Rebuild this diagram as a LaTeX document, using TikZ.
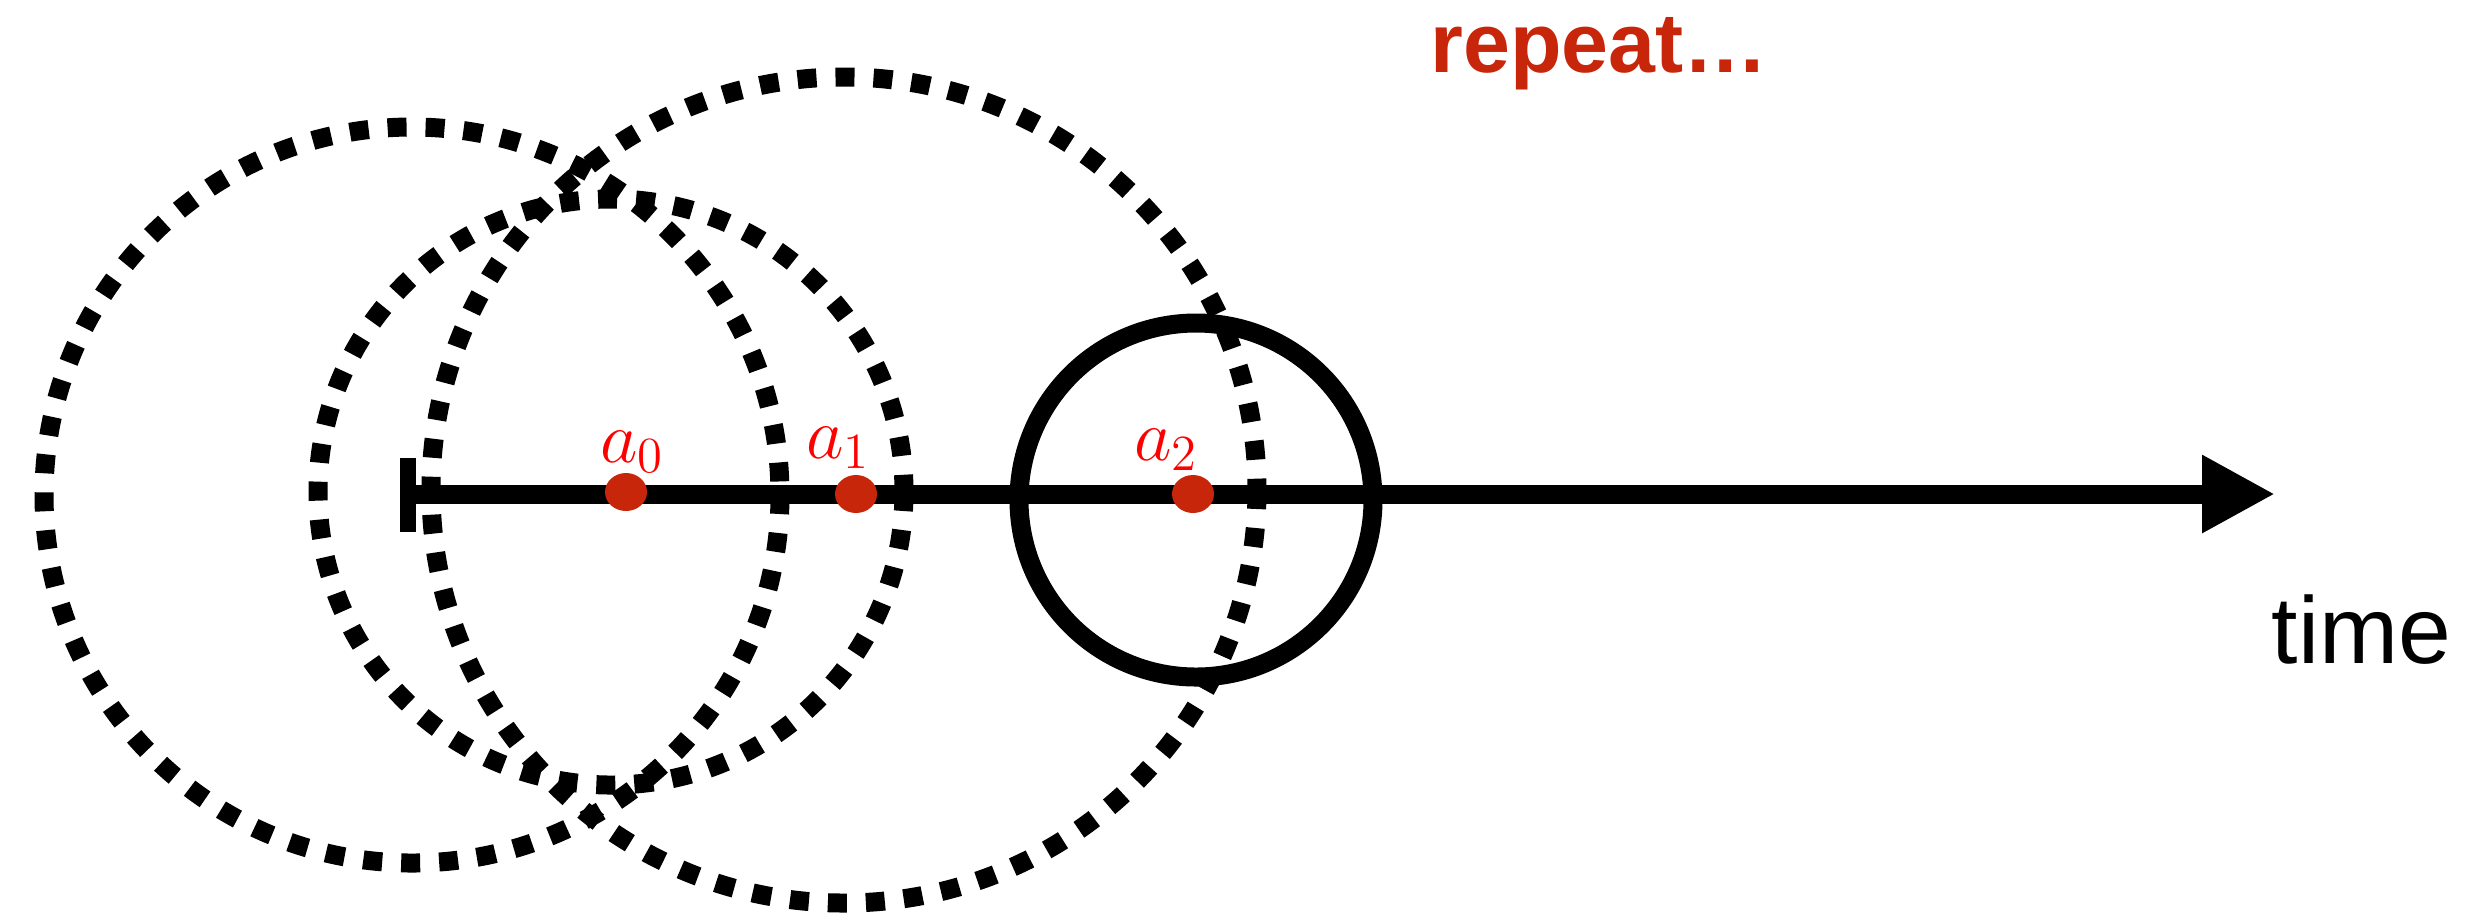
\documentclass[tikz,border=0pt]{standalone}
\usepackage{fontspec}
\newfontfamily\helvfont{Liberation Sans}
\usepackage{tikz}
\usetikzlibrary{shapes.geometric,arrows.meta,positioning}
\usepackage{xcolor}
\definecolor{pickred}{RGB}{200,38,10}

\begin{document}
\begin{tikzpicture}[
    x=0.1mm, y=-0.1mm,
    ring/.style={draw=black, line width=1.9mm, dash pattern=on 1.9mm off 1.9mm},
    chosen/.style={draw=black, line width=1.9mm},
    pick/.style={ellipse, fill=pickred, inner sep=0pt,
        minimum width=4.2mm, minimum height=3.8mm},
    picklabel/.style={text=red, font=\fontsize{22}{26}\selectfont,
        anchor=base, inner sep=0pt},
    >={Triangle[length=7.3mm,width=7.3mm]}
]
\useasboundingbox (0,0) rectangle (2467,919);

\coordinate (start) at (408,494);
\coordinate (tip) at (2275,494);
\coordinate (tickup) at (408,458);
\coordinate (tickdown) at (408,532);

\draw[ring] (412,495) circle[radius=368];
\draw[ring] (611,492) circle[radius=293];
\draw[ring] (844,490) circle[radius=413];
\draw[chosen] (1196,500) circle[radius=177];

\draw[line width=1.9mm, ->] (start) -- (tip);
\draw[line width=1.6mm] (tickup) -- (tickdown);

\node[pick] (a0) at (626,492) {};
\node[pick] (a1) at (856,494) {};
\node[pick] (a2) at (1193,494) {};
\node[picklabel] (lbl0) at (632,462) {$a_0$};
\node[picklabel] (lbl1) at (838,458) {$a_1$};
\node[picklabel] (lbl2) at (1166,460) {$a_2$};

\node[anchor=base west, inner sep=0pt, text=pickred,
    font=\helvfont\bfseries\fontsize{24}{28}\selectfont] (again) at (1430,72) {repeat…};
\node[anchor=base west, inner sep=0pt,
    font=\helvfont\fontsize{27}{32}\selectfont] (timelbl) at (2271,663) {time};
\end{tikzpicture}
\end{document}
